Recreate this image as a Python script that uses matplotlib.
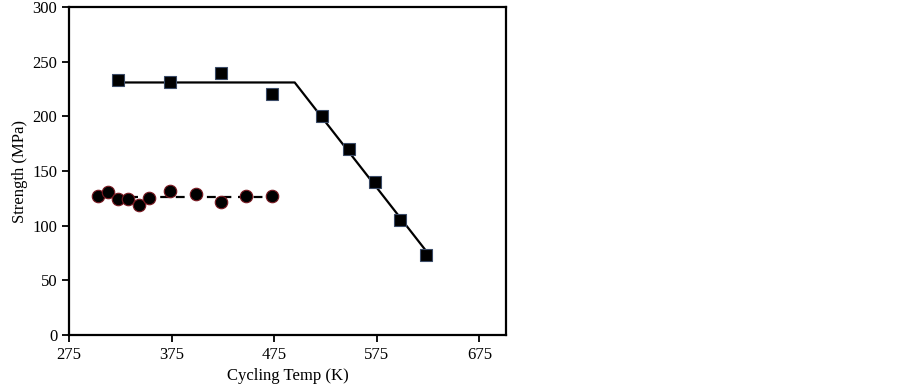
import matplotlib
matplotlib.use("Agg")
import matplotlib.pyplot as plt

plt.rcParams['font.family'] = ['Liberation Serif', 'DejaVu Serif']

# square series (strength vs cycling temp)
sq_temp = [323, 373, 423, 473, 522, 548, 573, 598, 623]
sq_strength = [233, 231, 240, 220, 200, 170, 140, 105, 73]
# fitted bilinear line
fit_temp = [323, 495, 623]
fit_strength = [231, 231, 77]

# circle series
ci_temp = [303, 313, 323, 333, 343, 353, 373, 399, 423, 448, 473]
ci_strength = [127, 131, 124, 124, 119, 125, 132, 129, 122, 127, 127]
ci_fit_temp = [303, 473]
ci_fit_strength = [126, 126]

xticks = [275, 375, 475, 575, 675]
yticks = [0, 50, 100, 150, 200, 250, 300]

fig = plt.figure(figsize=(9.03, 3.91), dpi=100)
ax = fig.add_axes([0.0764, 0.1432, 0.4840, 0.8388])

ax.plot(fit_temp, fit_strength, color='black', lw=1.6, zorder=2)
ax.plot(sq_temp, sq_strength, ls='none', marker='s', ms=9,
        mfc='black', mec='#3a4a66', mew=0.8, zorder=3)
ax.plot(ci_fit_temp, ci_fit_strength, color='black', lw=1.6, ls=(0, (4, 3)), zorder=2)
ax.plot(ci_temp, ci_strength, ls='none', marker='o', ms=9,
        mfc='black', mec='#7a1a22', mew=0.8, zorder=3)

ax.set_xlim(275, 701)
ax.set_ylim(0, 300)
ax.set_xticks(xticks)
ax.set_yticks(yticks)
ax.tick_params(direction='out', length=5, width=1.3, labelsize=12)
for s in ax.spines.values():
    s.set_linewidth(1.6)

ax.set_xlabel('Cycling Temp (K)', fontsize=12)
ax.set_ylabel('Strength (MPa)', fontsize=12, labelpad=3)

fig.savefig('out.png', dpi=100)
